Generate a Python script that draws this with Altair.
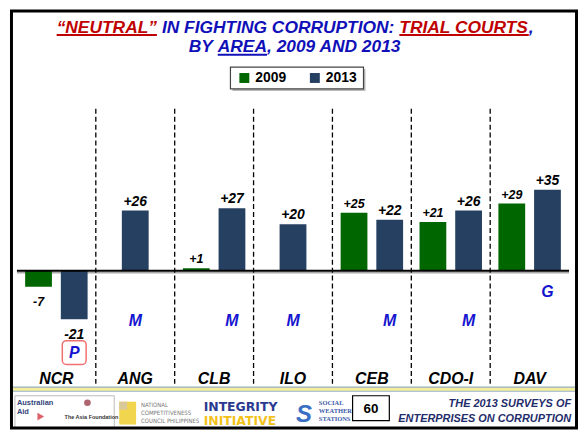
import altair as alt
import pandas as pd

# ---------------- data ----------------
areas = ["NCR", "ANG", "CLB", "ILO", "CEB", "CDO-I", "DAV"]
years = ["2009", "2013"]
neutral_2009 = [-7, None, 1, None, 25, 21, 29]
neutral_2013 = [-21, 26, 27, 20, 22, 26, 35]
change_letters = ["P", "M", "M", "M", "M", "M", "G"]

# ---------------- style ----------------
GREEN = "#006600"
NAVY = "#254061"
TBLUE = "#1010B8"
TRED = "#C00000"
LBLUE = "#1515D0"
FONT = "Liberation Sans"
W, H = 574, 423
PX = 2.33          # pixels per point
ZERO_Y = 263       # pixel row of the zero line

rows = []
for i, a in enumerate(areas):
    for yr, series in zip(years, [neutral_2009, neutral_2013]):
        v = series[i]
        if v is not None:
            rows.append({"area": a, "year": yr, "value": v})
df = pd.DataFrame(rows)
counts = df.groupby("area").size()
df["paired"] = df["area"].map(counts) == 2
df["label"] = [f"+{v}" if v > 0 else str(v) for v in df["value"]]

letters = pd.DataFrame({"area": areas, "letter": change_letters, "year": "2013"})
letters["paired"] = letters["area"].map(counts) == 2

x_scale = alt.Scale(domain=areas, paddingInner=0, paddingOuter=0.1133)
y_scale = alt.Scale(domain=[-(H - ZERO_Y) / PX, ZERO_Y / PX], nice=False, zero=False)
X = alt.X("area:N", scale=x_scale, axis=None)
Y = alt.Y("value:Q", scale=y_scale, axis=None, stack=None)
XOFF = alt.XOffset("year:N", scale=alt.Scale(domain=years, paddingInner=0.25, paddingOuter=0.23))
COLOR = alt.Color("year:N", scale=alt.Scale(domain=years, range=[GREEN, NAVY]), legend=None)
SIZE = alt.Size("year:O", scale=alt.Scale(domain=years, range=[12.5, 14]), legend=None)

paired = df[df["paired"]]
solo = df[~df["paired"]]

layers = []
one = pd.DataFrame({"k": [0]})

# zero line shadow
layers.append(alt.Chart(one).mark_rule(color="#aaaaaa", strokeWidth=2, yOffset=2).encode(
    x=alt.value(9), x2=alt.value(565), y=alt.value(ZERO_Y)))

# dashed separators
sep = pd.DataFrame({"area": areas[1:]})
layers.append(alt.Chart(sep).mark_rule(color="black", strokeWidth=1.3, strokeDash=[5, 3]).encode(
    x=alt.X("area:N", scale=x_scale, axis=None, bandPosition=0),
    y=alt.value(100), y2=alt.value(377)))

# bars
layers.append(alt.Chart(paired).mark_bar().encode(x=X, xOffset=XOFF, y=Y, y2=alt.datum(0), color=COLOR))
layers.append(alt.Chart(solo).mark_bar(size=27).encode(x=X, y=Y, y2=alt.datum(0), color=COLOR))

# zero line
layers.append(alt.Chart(one).mark_rule(color="black", strokeWidth=2).encode(
    x=alt.value(9), x2=alt.value(565), y=alt.value(ZERO_Y)))


def label_layer(data, offset, baseline, dy):
    enc = dict(x=X, y=Y, text="label:N", size=SIZE)
    if offset:
        enc["xOffset"] = XOFF
    return alt.Chart(data).mark_text(font=FONT, fontWeight="bold", fontStyle="italic",
                                     baseline=baseline, dy=dy, color="black").encode(**enc)


layers.append(label_layer(paired[paired["value"] > 0], True, "alphabetic", -5))
layers.append(label_layer(paired[paired["value"] < 0], True, "top", 9))
layers.append(label_layer(solo[solo["value"] > 0], False, "alphabetic", -5))

# category labels
cat = pd.DataFrame({"area": areas})
layers.append(alt.Chart(cat).mark_text(font=FONT, fontWeight="bold", fontStyle="italic", fontSize=16,
                                       color="black", baseline="middle").encode(
    x=X, y=alt.value(372), text="area:N"))

# significance letters
pbox = letters[letters["letter"] == "P"]
layers.append(alt.Chart(pbox).mark_rect(width=24, cornerRadius=4, fill="white", stroke="#F07070",
                                        strokeWidth=1.5).encode(
    x=X, xOffset=XOFF, y=alt.value(333.5), y2=alt.value(357.5)))
letter_y = {"M": 314, "G": 285, "P": 345.5}
for L, yv in letter_y.items():
    for pr in (True, False):
        sub = letters[(letters["letter"] == L) & (letters["paired"] == pr)]
        if len(sub) == 0:
            continue
        enc = dict(x=X, y=alt.value(yv), text="letter:N")
        if pr:
            enc["xOffset"] = XOFF
        layers.append(alt.Chart(sub).mark_text(font=FONT, fontWeight="bold", fontStyle="italic",
                                               fontSize=16, color=LBLUE, baseline="middle").encode(**enc))


def deco_text(s, x, y, size, color="black", align="left", baseline="alphabetic",
              weight="bold", style="italic", font=FONT):
    kw = dict(font=font, fontSize=size, color=color, align=align, baseline=baseline, fontWeight=weight)
    if style:
        kw["fontStyle"] = style
    return alt.Chart(pd.DataFrame({"t": [s]})).mark_text(**kw).encode(
        x=alt.value(x), y=alt.value(y), text="t:N")


def deco_rule(x1, x2, y1, y2, color, width):
    return alt.Chart(one).mark_rule(color=color, strokeWidth=width).encode(
        x=alt.value(x1), x2=alt.value(x2), y=alt.value(y1), y2=alt.value(y2))


def deco_rect(x1, x2, y1, y2, fill, stroke=None, sw=1, radius=0):
    kw = dict(fill=fill, strokeWidth=sw, cornerRadius=radius)
    if stroke:
        kw["stroke"] = stroke
    return alt.Chart(one).mark_rect(**kw).encode(
        x=alt.value(x1), x2=alt.value(x2), y=alt.value(y1), y2=alt.value(y2))


# title
TS = 17.5
layers += [
    deco_text("\u201cNEUTRAL\u201d", 49, 23.3, TS, TRED),
    deco_text("IN FIGHTING CORRUPTION:", 155.0, 23.3, TS, TBLUE),
    deco_text("TRIAL COURTS", 394.1, 23.3, TS, TRED),
    deco_text(",", 524.4, 23.3, TS, TBLUE),
    deco_text("BY", 182, 43.3, TS, TBLUE),
    deco_text("AREA", 211.2, 43.3, TS, TBLUE),
    deco_text(", 2009 AND 2013", 260.8, 43.3, TS, TBLUE),
    deco_rule(49, 150, 25.6, 25.6, TRED, 2),
    deco_rule(394.1, 524.4, 25.6, 25.6, TRED, 2),
    deco_rule(211.2, 260.8, 45.6, 45.6, TBLUE, 2),
]

# legend
layers += [
    deco_rect(226, 360, 60, 82, "#bbbbbb"),
    deco_rect(224, 358, 58, 80, "white", "#444444", 1.2),
    deco_rect(233, 243, 64, 74, GREEN),
    deco_rect(304, 314, 64, 74, NAVY),
    deco_text("2009", 249, 69.5, 14, "black", baseline="middle", style=None),
    deco_text("2013", 320, 69.5, 14, "black", baseline="middle", style=None),
]

# footer band
layers += [
    deco_rect(5, 571, 380, 385, "#F3EE9C"),
    deco_rule(5, 571, 380.3, 380.3, "#7F9FCF", 1),
    deco_rule(5, 571, 384.5, 384.5, "#9DB5DB", 1),
]

COND = "DejaVu Sans Condensed, Liberation Sans Narrow, sans-serif"
# logos (approximated with text)
layers += [
    deco_rect(7, 107, 389, 421, "white", "#bbbbbb", 1),
    deco_text("Australian", 9, 398.5, 7.5, "#33447A", style=None),
    deco_text("Aid", 9, 407, 7.5, "#33447A", style=None),
    deco_text("The Asia Foundation", 57, 412, 5.5, "#333333", style=None),
    alt.Chart(one).mark_point(filled=True, size=45, color="#8B2332").encode(x=alt.value(80), y=alt.value(396)),
    alt.Chart(one).mark_point(filled=True, size=60, shape="triangle-right", color="#D0202A").encode(
        x=alt.value(33), y=alt.value(410)),
    deco_rect(112, 129, 395, 418, "#F2D54E"),
    deco_rect(112, 120, 395, 403, "#D8C89A"),
    deco_text("NATIONAL", 134, 400, 6, "#777777", weight="normal", style=None, font=COND),
    deco_text("COMPETITIVENESS", 134, 408, 6, "#777777", weight="normal", style=None, font=COND),
    deco_text("COUNCIL PHILIPPINES", 134, 416, 6, "#777777", weight="normal", style=None, font=COND),
    deco_text("INTEGRITY", 197, 404, 12.5, "#2B3990", style=None, font="DejaVu Sans"),
    deco_text("INITIATIVE", 197, 418.5, 12.5, "#F2C21B", style=None, font="DejaVu Sans"),
    deco_text("S", 298, 408, 24, "#3A6FC4", baseline="middle", align="center"),
    deco_text("SOCIAL", 313, 398.5, 6.5, "#3B5BA9", style=None, font="Liberation Serif"),
    deco_text("WEATHER", 313, 406.5, 6.5, "#3B5BA9", style=None, font="Liberation Serif"),
    deco_text("STATIONS", 313, 414.5, 6.5, "#3B5BA9", style=None, font="Liberation Serif"),
    deco_rect(347, 384, 389, 414, "white", "black", 1.2),
    deco_text("60", 365.5, 402, 13.5, "black", align="center", baseline="middle", style=None),
    deco_text("THE 2013 SURVEYS OF", 567, 397.5, 11, "#1F2D6B", align="right", baseline="middle"),
    deco_text("ENTERPRISES ON CORRUPTION", 567, 412.5, 11, "#1F2D6B", align="right", baseline="middle"),
]

# outer frame
layers.append(alt.Chart(one).mark_rect(fillOpacity=0, stroke="black", strokeWidth=3).encode(
    x=alt.value(3.5), x2=alt.value(572.5), y=alt.value(1.5), y2=alt.value(H - 1.5)))

chart = alt.layer(*layers).properties(
    width=W, height=H, padding=0, autosize=alt.AutoSizeParams(type="none"),
    background="white",
).configure_view(stroke=None)

chart.save("out.html", embed_options={"renderer": "svg", "actions": False})
